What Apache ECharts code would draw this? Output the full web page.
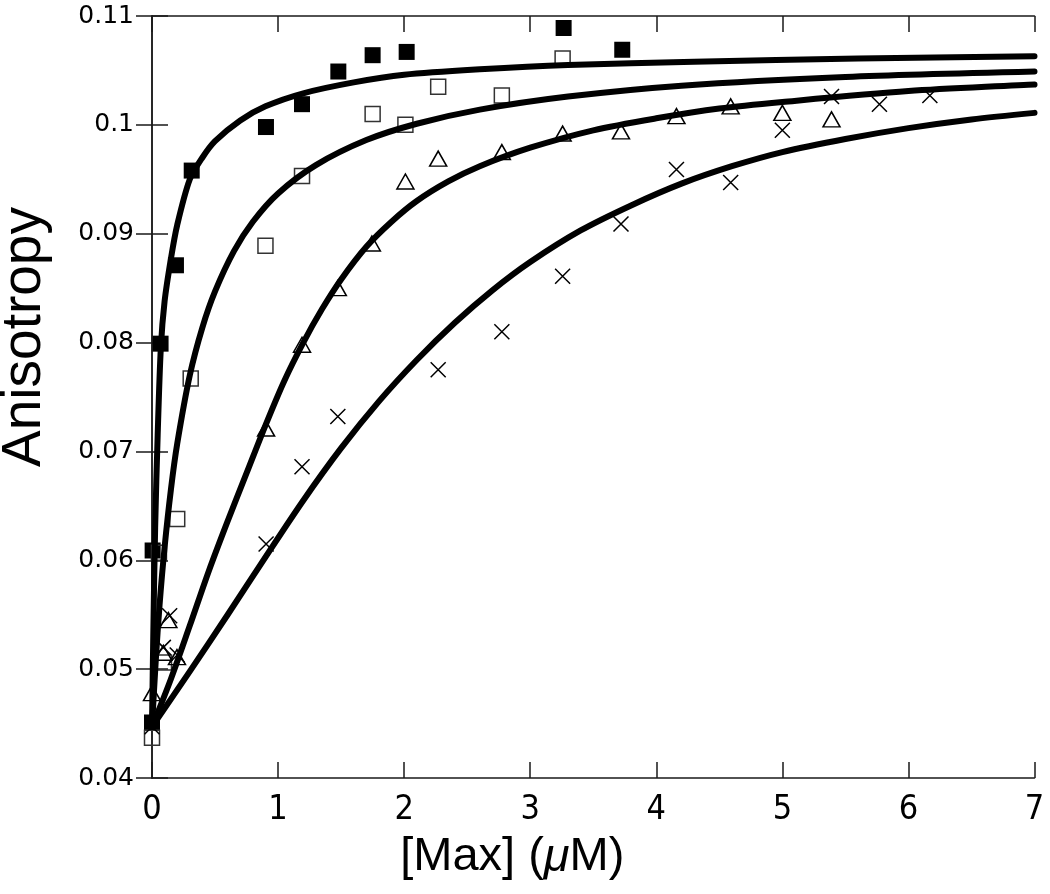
<!DOCTYPE html>
<html>
<head>
<meta charset="utf-8">
<script src="https://cdn.jsdelivr.net/npm/echarts@6/dist/echarts.min.js"></script>
<style>html,body{margin:0;padding:0;background:#fff}#c{width:1050px;height:894px}</style>
</head>
<body>
<div id="c"></div>
<script>
// tick values
const xTicks = [0, 1, 2, 3, 4, 5, 6, 7];
const yTicks = [0.04, 0.05, 0.06, 0.07, 0.08, 0.09, 0.1, 0.11];

// measured points [x (uM), anisotropy]
const filledSquares = [[0,0.0451],[0.005,0.0609],[0.068,0.0799],[0.19,0.0871],[0.315,0.0958],[0.904,0.0998],[1.19,0.1019],[1.478,0.1049],[1.75,0.1064],[2.02,0.1067],[3.265,0.1089],[3.73,0.1069]];
const openSquares = [[0,0.0437],[0.055,0.0607],[0.095,0.0506],[0.2,0.0638],[0.307,0.0767],[0.9,0.0889],[1.19,0.0953],[1.75,0.101],[2.01,0.1],[2.27,0.1035],[2.775,0.1027],[3.257,0.1061]];
const triangles = [[0,0.0478],[0.09,0.0515],[0.13,0.0545],[0.198,0.0511],[0.905,0.0721],[1.19,0.0798],[1.474,0.085],[1.744,0.0891],[2.01,0.0948],[2.27,0.0969],[2.775,0.0975],[3.257,0.0992],[3.72,0.0994],[4.16,0.1008],[4.59,0.1017],[5.0,0.1011],[5.39,0.1005]];
const crosses = [[0,0.0447],[0.09,0.052],[0.14,0.0549],[0.2,0.0513],[0.905,0.0615],[1.19,0.0686],[1.474,0.0732],[2.27,0.0775],[2.775,0.081],[3.257,0.0861],[3.72,0.0909],[4.16,0.0959],[4.59,0.0947],[5.0,0.0995],[5.39,0.1026],[5.77,0.1019],[6.17,0.1027]];

// fitted curves
const fit1 = [[0,0.0447],[0.01,0.053],[0.025,0.063],[0.045,0.0715],[0.07,0.0795],[0.1,0.0838],[0.15,0.0877],[0.2,0.0908],[0.3,0.095],[0.4,0.097],[0.5,0.0985],[0.7,0.1004],[0.9,0.1017],[1.2,0.1029],[1.6,0.1039],[2.0,0.1046],[2.6,0.1051],[3.3,0.1055],[4.3,0.1058],[5.6,0.1061],[7.0,0.1063]];
const fit2 = [[0,0.0447],[0.03,0.0508],[0.06,0.0559],[0.1,0.0612],[0.15,0.0665],[0.2,0.0707],[0.3,0.077],[0.4,0.0814],[0.5,0.0847],[0.65,0.0884],[0.8,0.0911],[1.0,0.0937],[1.3,0.0963],[1.7,0.0986],[2.1,0.1001],[2.6,0.1014],[3.3,0.1026],[4.2,0.1036],[5.5,0.1044],[7.0,0.1049]];
const fit3 = [[0,0.0447],[0.15,0.0491],[0.3,0.054],[0.45,0.059],[0.6,0.0636],[0.75,0.068],[0.9,0.0724],[1.05,0.0765],[1.2,0.08],[1.35,0.0831],[1.5,0.0858],[1.7,0.0888],[1.9,0.0911],[2.1,0.093],[2.35,0.0948],[2.6,0.0962],[3.0,0.0979],[3.5,0.0995],[4.0,0.1006],[4.5,0.1015],[5.0,0.1021],[6.0,0.1031],[7.0,0.1037]];
const fit4 = [[0,0.0447],[0.3,0.0498],[0.6,0.055],[0.9,0.0603],[1.2,0.0655],[1.5,0.0703],[1.8,0.0746],[2.1,0.0784],[2.4,0.0818],[2.7,0.0848],[3.0,0.0874],[3.4,0.0903],[3.8,0.0926],[4.2,0.0946],[4.6,0.0962],[5.0,0.0975],[5.5,0.0987],[6.0,0.0997],[6.5,0.1005],[7.0,0.1011]];

const lineCol = '#1a1a1a';
const chart = echarts.init(document.getElementById('c'), null, {renderer: 'canvas'});

const axisCommon = {
  axisLine: {show: true, lineStyle: {color: lineCol, width: 1.5}},
  axisTick: {show: true, inside: true, length: 16, lineStyle: {color: lineCol, width: 1.5}},
  splitLine: {show: false}
};

function fitSeries(d) {
  return {type: 'line', data: d, smooth: 0.3, showSymbol: false, symbol: 'none',
    lineStyle: {color: '#000', width: 6, cap: 'round', join: 'round'}, z: 5, silent: true};
}

chart.setOption({
  animation: false,
  backgroundColor: '#fff',
  grid: {left: 152, right: 15.5, top: 16, bottom: 116, containLabel: false, outerBoundsMode: 'none'},
  xAxis: [
    Object.assign({
      type: 'value', min: xTicks[0], max: xTicks[xTicks.length - 1], interval: xTicks[1] - xTicks[0],
      position: 'bottom',
      axisLabel: {show: true, margin: 15, color: '#000', fontSize: 34, fontFamily: 'Liberation Sans Narrow, DejaVu Sans Condensed, sans-serif'},
      name: '[Max] ({i|μ}M)', nameLocation: 'middle', nameGap: 56,
      nameTextStyle: {color: '#000', fontSize: 47, fontFamily: 'Liberation Sans, sans-serif', padding: [0, 162, 0, 0],
        rich: {i: {fontStyle: 'italic', fontSize: 47, fontFamily: 'Liberation Sans, sans-serif', color: '#000'}}}
    }, axisCommon),
    Object.assign({
      type: 'value', min: xTicks[0], max: xTicks[xTicks.length - 1], interval: xTicks[1] - xTicks[0],
      position: 'top', axisLabel: {show: false}
    }, axisCommon)
  ],
  yAxis: [
    Object.assign({
      type: 'value', min: yTicks[0], max: yTicks[yTicks.length - 1], interval: 0.01,
      position: 'left',
      axisLabel: {show: true, margin: 18, color: '#000', fontSize: 25, fontFamily: 'DejaVu Sans, sans-serif',
        formatter: function (v) { return String(Math.round(v * 100) / 100); }},
      name: 'Anisotropy', nameLocation: 'middle', nameGap: 100, nameRotate: 90,
      nameTextStyle: {color: '#000', fontSize: 55, fontFamily: 'Liberation Sans, sans-serif', padding: [0, 0, 0, 120]}
    }, axisCommon),
    Object.assign({
      type: 'value', min: yTicks[0], max: yTicks[yTicks.length - 1], interval: 0.01,
      position: 'right', axisLabel: {show: false}
    }, axisCommon)
  ],
  series: [
    {type: 'scatter', name: 'filled', data: filledSquares, symbol: 'rect', symbolSize: 16,
      itemStyle: {color: '#000', opacity: 1}, z: 3, silent: true},
    {type: 'scatter', name: 'open', data: openSquares, symbol: 'rect', symbolSize: 15,
      itemStyle: {color: 'rgba(0,0,0,0)', borderColor: '#333', borderWidth: 1.5, opacity: 1}, z: 3, silent: true},
    {type: 'scatter', name: 'triangle', data: triangles, symbol: 'triangle', symbolSize: [17, 15],
      itemStyle: {color: 'rgba(0,0,0,0)', borderColor: '#000', borderWidth: 1.5, opacity: 1}, z: 3, silent: true},
    {type: 'scatter', name: 'cross', data: crosses, symbol: 'path://M0,0L10,10M10,0L0,10', symbolSize: 15,
      itemStyle: {color: 'rgba(0,0,0,0)', borderColor: '#000', borderWidth: 1.5, opacity: 1}, z: 3, silent: true},
    fitSeries(fit1), fitSeries(fit2), fitSeries(fit3), fitSeries(fit4)
  ]
});
</script>
</body>
</html>
